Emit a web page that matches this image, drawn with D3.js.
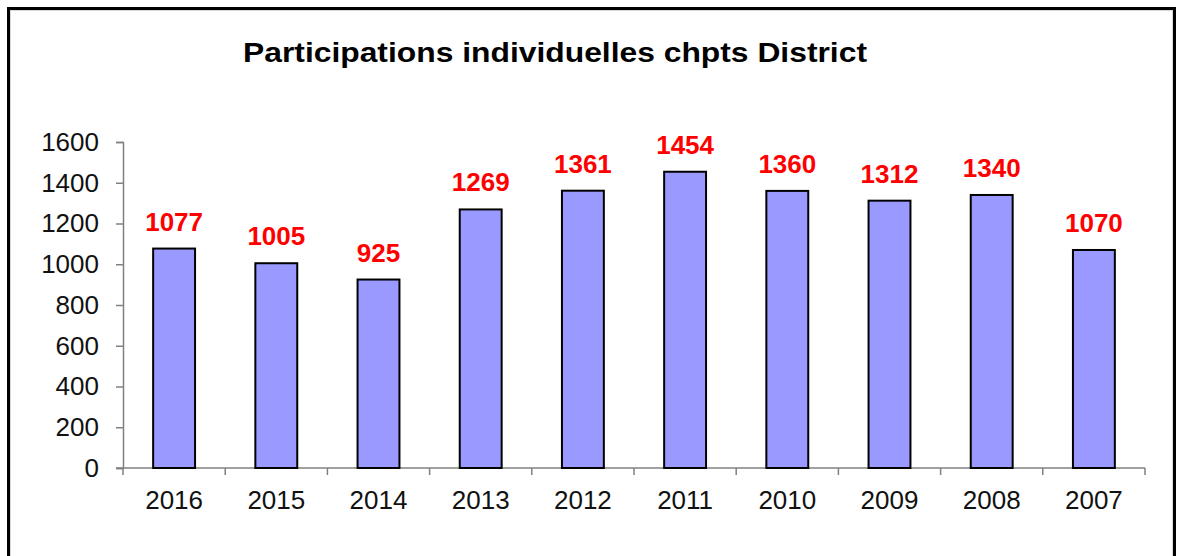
<!DOCTYPE html>
<html>
<head>
<meta charset="utf-8">
<script src="https://cdn.jsdelivr.net/npm/d3@7"></script>
<style>
  body { margin: 0; background: #fff; }
  text { font-family: "Liberation Sans", Arial, sans-serif; }
</style>
</head>
<body>
<div id="chart"></div>
<script>
// Data
const years = ["2016", "2015", "2014", "2013", "2012", "2011", "2010", "2009", "2008", "2007"];
const participations = [1077, 1005, 925, 1269, 1361, 1454, 1360, 1312, 1340, 1070];
const yTicks = [0, 200, 400, 600, 800, 1000, 1200, 1400, 1600];
const chartTitle = "Participations individuelles chpts District";

const width = 1180, height = 556;
const svg = d3.select("#chart").append("svg")
  .attr("width", width)
  .attr("height", height);

// Frame (bottom edge falls outside the picture)
svg.append("rect")
  .attr("x", 8.5).attr("y", 8.5)
  .attr("width", 1166).attr("height", 600)
  .style("fill", "none")
  .style("stroke", "#000")
  .style("stroke-width", 3);
svg.append("rect")
  .attr("x", 10.5).attr("y", 10.5)
  .attr("width", 1162).attr("height", 600)
  .style("fill", "none")
  .style("stroke", "#d8d8d8")
  .style("stroke-width", 1);

// Title (source picture is a bit stretched horizontally)
svg.append("text")
  .attr("x", 243).attr("y", 62)
  .attr("textLength", 624)
  .attr("lengthAdjust", "spacingAndGlyphs")
  .style("font-size", "28px")
  .style("font-weight", "bold")
  .style("fill", "#000")
  .text(chartTitle);

// Scales
const x = d3.scaleBand()
  .domain(years)
  .range([123, 1145])
  .paddingInner(0.59)
  .paddingOuter(0.295);

const band = d3.scaleBand().domain(years).range([123, 1145]);

const y = d3.scaleLinear()
  .domain([0, 1600])
  .range([468, 142]);

// Y axis
const yAxis = svg.append("g")
  .attr("transform", "translate(123,0)")
  .call(d3.axisLeft(y).tickValues(yTicks).tickFormat(d3.format("d")).tickSize(7).tickPadding(17));
yAxis.select(".domain").attr("stroke", "#808080").attr("stroke-width", 1.5);
yAxis.selectAll(".tick line").attr("stroke", "#808080").attr("stroke-width", 1.5);
yAxis.selectAll(".tick text")
  .style("font-size", "26px")
  .style("fill", "#111")
  .attr("font-family", null);

// X axis with ticks between categories
const xAxisG = svg.append("g").attr("transform", "translate(0,468)");
xAxisG.append("line")
  .attr("x1", 116).attr("x2", 1145)
  .attr("stroke", "#808080").attr("stroke-width", 1.5);
xAxisG.selectAll(".sep")
  .data(years.concat(["end"]))
  .enter().append("line")
  .attr("class", "sep")
  .attr("x1", (d, i) => i < years.length ? band(d) : 1145)
  .attr("x2", (d, i) => i < years.length ? band(d) : 1145)
  .attr("y1", 0).attr("y2", 7)
  .attr("stroke", "#808080").attr("stroke-width", 1.5);
xAxisG.selectAll(".xlabel")
  .data(years)
  .enter().append("text")
  .attr("class", "xlabel")
  .attr("x", d => band(d) + band.bandwidth() / 2)
  .attr("y", 41)
  .attr("text-anchor", "middle")
  .style("font-size", "26px")
  .style("fill", "#111")
  .text(d => d);

// Bars
svg.selectAll(".bar")
  .data(participations)
  .enter().append("rect")
  .attr("class", "bar")
  .attr("x", (d, i) => x(years[i]))
  .attr("y", d => y(d))
  .attr("width", x.bandwidth())
  .attr("height", d => y(0) - y(d))
  .style("fill", "#9999ff")
  .style("stroke", "#000")
  .style("stroke-width", 2);

// Value labels
svg.selectAll(".value")
  .data(participations)
  .enter().append("text")
  .attr("class", "value")
  .attr("x", (d, i) => band(years[i]) + band.bandwidth() / 2)
  .attr("y", d => y(d) - 18)
  .attr("text-anchor", "middle")
  .style("font-size", "26px")
  .style("font-weight", "bold")
  .style("fill", "#ff0000")
  .text(d => d);
</script>
</body>
</html>
